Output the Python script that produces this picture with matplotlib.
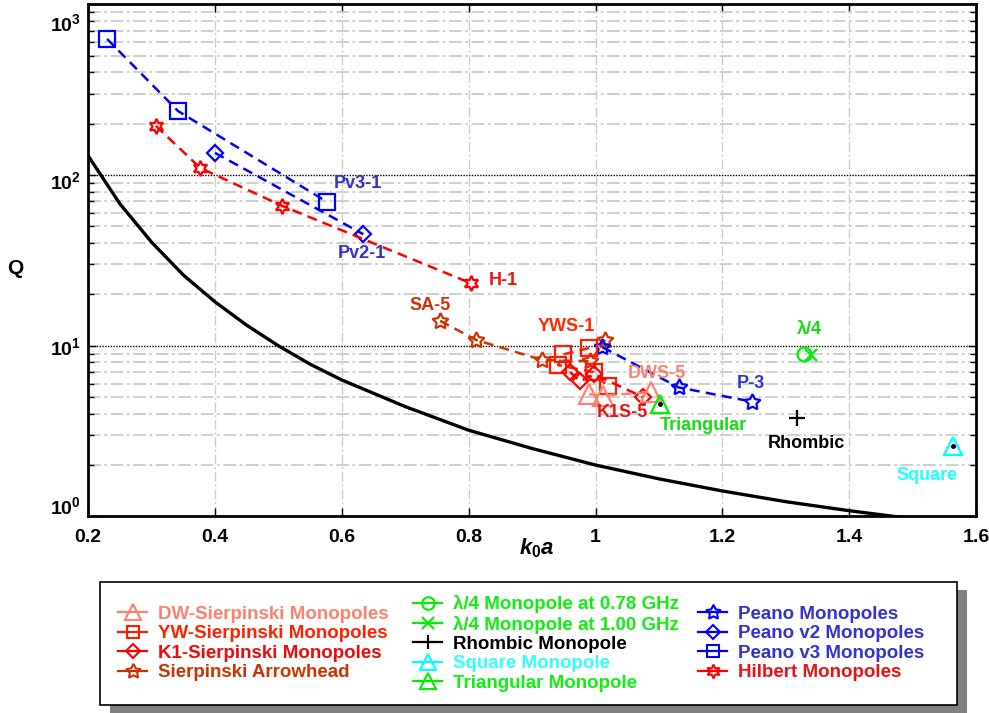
import matplotlib
matplotlib.use('Agg')
import matplotlib.pyplot as plt
from matplotlib.lines import Line2D
from matplotlib.patches import Rectangle
from matplotlib.ticker import LogLocator, NullFormatter
from matplotlib.transforms import ScaledTranslation

plt.rcParams['font.family'] = 'Liberation Sans'
plt.rcParams['font.weight'] = 'bold'
plt.rcParams['mathtext.fontset'] = 'custom'
plt.rcParams['mathtext.rm'] = 'Liberation Sans:bold'
plt.rcParams['mathtext.it'] = 'Liberation Sans:bold:italic'
plt.rcParams['mathtext.bf'] = 'Liberation Sans:bold'

# Q versus electrical size k0a for the monopole families
chu_ka = [0.20, 0.25, 0.30, 0.35, 0.40, 0.45, 0.50, 0.55, 0.60, 0.70, 0.80,
          0.90, 1.00, 1.10, 1.20, 1.30, 1.40, 1.48]
chu_q = [130, 68, 40.5, 26, 18.1, 13.2, 10.0, 7.8, 6.3, 4.4, 3.2,
         2.5, 2.0, 1.66, 1.41, 1.22, 1.08, 0.99]

dw_ka = [0.990, 1.012, 1.087]
dw_q = [5.2, 5.1, 5.35]
yw_ka = [0.990, 0.949, 0.941, 0.997, 1.019]
yw_q = [9.7, 8.9, 7.7, 7.0, 5.8]
k1_ka = [0.960, 0.976, 0.998, 1.075]
k1_q = [7.0, 6.2, 6.8, 5.0]
arrow_ka = [0.755, 0.812, 0.916, 0.992, 1.015]
arrow_q = [14.0, 10.8, 8.25, 8.1, 10.8]

quarter_078_ka = [1.329]
quarter_078_q = [9.0]
quarter_100_ka = [1.339]
quarter_100_q = [8.8]
rhombic_ka = [1.318]
rhombic_q = [3.75]
square_ka = [1.564]
square_q = [2.58]
triangular_ka = [1.102]
triangular_q = [4.55]

peano_ka = [1.011, 1.131, 1.247]
peano_q = [9.8, 5.7, 4.7]
peano_v2_ka = [0.400, 0.634]
peano_v2_q = [135, 45]
peano_v3_ka = [0.230, 0.342, 0.577]
peano_v3_q = [627, 237, 69.5]
hilbert_ka = [0.307, 0.377, 0.506, 0.804]
hilbert_q = [194, 110, 66, 23.2]

# point labels: text, k0a, Q, colour
labels = [
    ('Pv3-1', 0.626, 89.8, '#3333cc'),
    ('Pv2-1', 0.631, 34.9, '#3333cc'),
    ('H-1', 0.855, 24.1, '#ee1111'),
    ('SA-5', 0.739, 17.1, '#cc3300'),
    ('YWS-1', 0.954, 12.9, '#ff2a00'),
    ('DWS-5', 1.096, 6.92, '#ff8070'),
    ('K1S-5', 1.042, 4.06, '#ee1111'),
    ('Triangular', 1.170, 3.40, '#11dd11'),
    ('P-3', 1.245, 6.01, '#3333cc'),
    ('\u03bb/4', 1.337, 12.5, '#11dd11'),
    ('Rhombic', 1.3325, 2.69, 'black'),
    ('Square', 1.523, 1.73, '#22ffff'),
]

xticks = [0.2, 0.4, 0.6, 0.8, 1.0, 1.2, 1.4, 1.6]
xtick_labels = ['0.2', '0.4', '0.6', '0.8', '1', '1.2', '1.4', '1.6']
yticks = [1, 10, 100, 1000]
ytick_labels = [r'$10^{0}$', r'$10^{1}$', r'$10^{2}$', r'$10^{3}$']
# vertical nudge of each decade label, in pixels (positive = down)
ytick_nudge = [-11, 0, 5, 18]

fig = plt.figure(figsize=(9.89, 7.13), dpi=100)
ax = fig.add_axes([0.089, 0.2757, 0.898, 0.7182])

dash = (4, 2.5)
lw = 1.8
mew = 1.6

ax.plot(chu_ka, chu_q, color='black', lw=2.4, zorder=3)

def series(ka, q, color, marker, ms, line=True):
    ax.plot(ka, q, color=color, marker=marker, ms=ms, mfc='none', mew=mew,
            lw=lw if line else 0, ls='--' if line else 'none',
            dashes=dash if line else (None, None), zorder=4)

series(peano_v3_ka, peano_v3_q, '#0000ff', 's', 11)
series(peano_v2_ka, peano_v2_q, '#0000ff', 'D', 8.5)
series(hilbert_ka, hilbert_q, '#ff0000', (6, 1, 0), 11)
series(arrow_ka, arrow_q, '#cc3300', (5, 1, 0), 12)
series(peano_ka, peano_q, '#0000ff', (5, 1, 0), 12)
series(yw_ka, yw_q, '#ff1a00', 's', 11)
series(k1_ka, k1_q, '#ff0000', 'D', 8.5)
series(dw_ka, dw_q, '#ff8070', '^', 14)
series(quarter_078_ka, quarter_078_q, '#00ee00', 'o', 10, line=False)
series(quarter_100_ka, quarter_100_q, '#00ee00', 'x', 9, line=False)
series(rhombic_ka, rhombic_q, 'black', '+', 11, line=False)
series(square_ka, square_q, '#00ffff', '^', 13, line=False)
series(triangular_ka, triangular_q, '#00ee00', '^', 13, line=False)
ax.plot(square_ka + triangular_ka, square_q + triangular_q, 'k.', ms=5, zorder=5)

for text, x, y, c in labels:
    ax.text(x, y, text, color=c, fontsize=13, fontweight='bold',
            ha='center', va='center', zorder=6)

ax.set_yscale('log')
ax.set_xlim(0.2, 1.6)
ax.set_ylim(1, 1000)
ax.set_xticks(xticks)
ax.set_xticklabels(xtick_labels, fontsize=14, fontweight='bold')
ax.set_yticks(yticks)
ax.set_yticklabels(ytick_labels, fontsize=14)
ax.yaxis.set_minor_locator(LogLocator(base=10, subs=range(2, 10)))
ax.yaxis.set_minor_formatter(NullFormatter())

ax.grid(True, which='major', axis='x', color='#cccccc', ls=(0, (7, 2, 1.5, 2)), lw=1)
ax.grid(True, which='minor', axis='y', color='#cccccc', ls=(0, (7, 2, 1.5, 2)), lw=1.3)
ax.grid(True, which='major', axis='y', color='black', ls=(0, (1, 1)), lw=1)
ax.set_axisbelow(True)

ax.tick_params(which='both', direction='in', top=True, right=True)
ax.tick_params(which='major', length=6, width=1)
ax.tick_params(which='minor', length=4, width=1)
ax.tick_params(axis='x', pad=9)
ax.tick_params(axis='y', pad=5)
for sp in ax.spines.values():
    sp.set_linewidth(2)

for lab, dy in zip(ax.get_yticklabels(), ytick_nudge):
    lab.set_transform(lab.get_transform() +
                      ScaledTranslation(0, -dy / 100, fig.dpi_scale_trans))

fig.text(537 / 989, 1 - 548 / 713, r'$k_0a$', fontsize=16, ha='center', va='center')
fig.text(15 / 989, 1 - 268 / 713, 'Q', fontsize=15, fontweight='bold',
         ha='center', va='center')

# legend box with drop shadow
fig.add_artist(Rectangle((110 / 989, 0.0), 857 / 989, 123 / 713,
                         transform=fig.transFigure, facecolor='#808080',
                         edgecolor='none', zorder=1))
fig.add_artist(Rectangle((100 / 989, 1 - 705 / 713), 857 / 989, 123 / 713,
                         transform=fig.transFigure, facecolor='white',
                         edgecolor='black', lw=1.2, zorder=2))

def handle(color, marker, ms):
    return Line2D([], [], color=color, marker=marker, ms=ms, mfc='none',
                  mew=1.5, lw=1.6)

col1 = [handle('#ff8070', '^', 11), handle('#ff1a00', 's', 9),
        handle('#ff0000', 'D', 7), handle('#cc3300', (5, 1, 0), 11)]
col1_text = ['DW-Sierpinski Monopoles', 'YW-Sierpinski Monopoles',
             'K1-Sierpinski Monopoles', 'Sierpinski Arrowhead']
col1_colors = ['#ff8070', '#ff2200', '#ee0a0a', '#cc3300']

col2 = [handle('#00ee00', 'o', 9), handle('#00ee00', 'x', 9),
        handle('black', '+', 10), handle('#00ffff', '^', 11),
        handle('#00ee00', '^', 11)]
col2_text = ['\u03bb/4 Monopole at 0.78 GHz', '\u03bb/4 Monopole at 1.00 GHz',
             'Rhombic Monopole', 'Square Monopole', 'Triangular Monopole']
col2_colors = ['#11ee11', '#11ee11', 'black', '#33ffff', '#11ee11']

col3 = [handle('#0000ff', (5, 1, 0), 11), handle('#0000ff', 'D', 7),
        handle('#0000ff', 's', 9), handle('#ff0000', (6, 1, 0), 10)]
col3_text = ['Peano Monopoles', 'Peano v2 Monopoles', 'Peano v3 Monopoles',
             'Hilbert Monopoles']
col3_colors = ['#3333cc', '#3333cc', '#3333cc', '#ee1111']

for hs, ts, cs, x0 in [(col1, col1_text, col1_colors, 118),
                       (col2, col2_text, col2_colors, 413),
                       (col3, col3_text, col3_colors, 698)]:
    fig.legend(hs, ts, loc='center left', bbox_to_anchor=(x0 / 989, 1 - 643.5 / 713),
               frameon=False, borderpad=0, borderaxespad=0, handlelength=1.55,
               handletextpad=0.6, labelspacing=0.12, labelcolor=cs,
               prop={'family': 'Liberation Sans', 'weight': 'bold', 'size': 13.5})

fig.savefig('out.png', dpi=100)
